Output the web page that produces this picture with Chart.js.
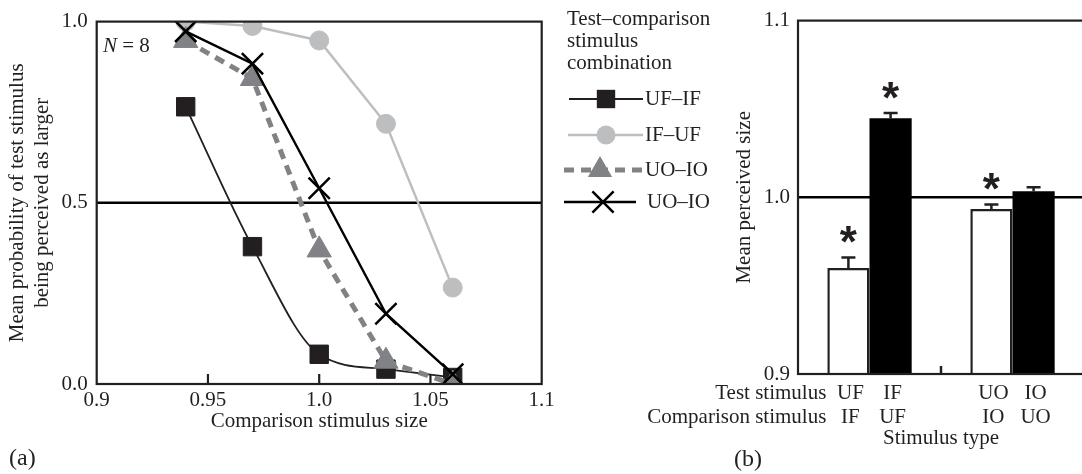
<!DOCTYPE html>
<html>
<head>
<meta charset="utf-8">
<script src="https://cdn.jsdelivr.net/npm/chart.js@4.4.1/dist/chart.umd.min.js"></script>
<style>
  html, body { margin: 0; padding: 0; background: #fff; overflow: hidden; }
  #wrap { position: relative; width: 1082px; height: 474px; overflow: hidden; }
  #left { position: absolute; left: 0; top: 0; }
  #right { position: absolute; left: 630px; top: 0; }
</style>
</head>
<body>
<div id="wrap">
  <canvas id="left" width="720" height="474"></canvas>
  <canvas id="right" width="460" height="474"></canvas>
</div>
<script>
// (a) probability of test stimulus judged larger
const sizes = [0.94, 0.97, 1.0, 1.03, 1.06];
const ufIf = [0.765, 0.379, 0.082, 0.041, 0.018];
const ifUf = [1.0, 0.988, 0.948, 0.718, 0.266];
const uoIoTri = [0.948, 0.843, 0.370, 0.063, 0.0];
const uoIoCross = [0.973, 0.884, 0.540, 0.194, 0.027];
const seriesNames = ['UF–IF', 'IF–UF', 'UO–IO', 'UO–IO'];
const xTicks = [0.9, 0.95, 1.0, 1.05, 1.1];
const xTickLabels = ['0.9', '0.95', '1.0', '1.05', '1.1'];
const yTicks = [0, 0.5, 1.0];
const yTickLabels = ['0.0', '0.5', '1.0'];
const chanceLevel = 0.5;

// (b) mean perceived size
const groups = ['UF/IF', 'UO/IO'];
const whiteMeans = [0.960, 0.9934];
const whiteErr = [0.006, 0.0025];
const blackMeans = [1.0447, 1.0034];
const blackErr = [0.003, 0.0023];
const whiteSig = [true, true];
const blackSig = [true, false];
const testLabels = [['UF', 'UO'], ['IF', 'IO']];   // per dataset, per group
const compLabels = [['IF', 'IO'], ['UF', 'UO']];
const bTicks = [0.9, 1.0, 1.1];
const bTickLabels = ['0.9', '1.0', '1.1'];
const pseLevel = 1.0;

const INK = '#231f20';
const SERIF = "'Liberation Serif', 'Times New Roman', serif";
Chart.defaults.font.family = SERIF;
Chart.defaults.font.size = 21;
Chart.defaults.color = INK;

function marker(ctx, style, x, y, r, color, lw) {
  ctx.save();
  ctx.fillStyle = color;
  ctx.strokeStyle = color;
  ctx.lineWidth = lw;
  ctx.setLineDash([]);
  ctx.beginPath();
  if (style === 'rect') {
    const s = r * Math.SQRT1_2;
    ctx.rect(x - s, y - s, 2 * s, 2 * s);
    ctx.fill();
  } else if (style === 'circle') {
    ctx.arc(x, y, r, 0, Math.PI * 2);
    ctx.fill();
  } else if (style === 'triangle') {
    ctx.moveTo(x, y - r);
    ctx.lineTo(x + r * Math.sin(2 * Math.PI / 3), y - r * Math.cos(2 * Math.PI / 3));
    ctx.lineTo(x + r * Math.sin(4 * Math.PI / 3), y - r * Math.cos(4 * Math.PI / 3));
    ctx.closePath();
    ctx.fill();
  } else {
    const d = r * Math.SQRT1_2;
    ctx.moveTo(x - d, y - d); ctx.lineTo(x + d, y + d);
    ctx.moveTo(x + d, y - d); ctx.lineTo(x - d, y + d);
    ctx.stroke();
  }
  ctx.restore();
}

// horizontal reference line under the data
const refLine = {
  id: 'refLine',
  beforeDatasetsDraw(chart, args, opts) {
    const {ctx, chartArea} = chart;
    const y = chart.scales.y.getPixelForValue(opts.value);
    ctx.save();
    ctx.strokeStyle = '#000';
    ctx.lineWidth = 2.4;
    ctx.beginPath();
    ctx.moveTo(chartArea.left, y);
    ctx.lineTo(chartArea.right, y);
    ctx.stroke();
    ctx.restore();
  }
};

// box round the plot area
const frame = {
  id: 'frame',
  afterDatasetsDraw(chart) {
    const {ctx, chartArea} = chart;
    ctx.save();
    ctx.strokeStyle = INK;
    ctx.lineWidth = 2.2;
    ctx.strokeRect(chartArea.left, chartArea.top, chartArea.right - chartArea.left, chartArea.bottom - chartArea.top);
    ctx.restore();
  }
};

const leftExtras = {
  id: 'leftExtras',
  afterDraw(chart) {
    const {ctx, chartArea} = chart;
    const xs = chart.scales.x;
    ctx.save();
    // inner tick marks
    ctx.strokeStyle = INK;
    ctx.lineWidth = 2.2;
    xTicks.slice(1, -1).forEach(v => {
      const x = xs.getPixelForValue(v);
      ctx.beginPath();
      ctx.moveTo(x, chartArea.bottom);
      ctx.lineTo(x, chartArea.bottom - 10);
      ctx.stroke();
    });
    ctx.fillStyle = INK;
    ctx.textBaseline = 'alphabetic';
    ctx.textAlign = 'left';
    ctx.font = 'italic 21px ' + SERIF;
    ctx.fillText('N', 103, 51.5);
    const nw = ctx.measureText('N').width;
    ctx.font = '21px ' + SERIF;
    ctx.fillText(' = 8', 103 + nw, 51.5);
    ctx.font = '24px ' + SERIF;
    ctx.fillText('(a)', 9, 465);

    // legend
    ctx.font = '21px ' + SERIF;
    ['Test–comparison', 'stimulus', 'combination'].forEach((t, i) => {
      ctx.fillText(t, 567, 25 + i * 22.2);
    });
    const rows = [
      {y: 99, x0: 569, x1: 643, mx: 606, tx: 645},
      {y: 135, x0: 568, x1: 643, mx: 606, tx: 645},
      {y: 170, x0: 564, x1: 642, mx: 600, tx: 645},
      {y: 202, x0: 564, x1: 636, mx: 603, tx: 647}
    ];
    chart.data.datasets.forEach((ds, i) => {
      const r = rows[i];
      ctx.save();
      ctx.strokeStyle = ds.borderColor;
      ctx.lineWidth = ds.borderWidth;
      ctx.setLineDash(ds.borderDash || []);
      ctx.beginPath();
      ctx.moveTo(r.x0, r.y);
      ctx.lineTo(r.x1, r.y);
      ctx.stroke();
      ctx.restore();
      marker(ctx, ds.pointStyle, r.mx, r.y, ds.pointRadius, ds.pointBorderColor, ds.pointBorderWidth || 1);
      ctx.fillStyle = INK;
      ctx.textBaseline = 'middle';
      ctx.fillText(ds.label, r.tx, r.y);
    });
    ctx.restore();
  }
};

const pts = ys => sizes.map((x, i) => ({x: x, y: ys[i]}));

new Chart(document.getElementById('left'), {
  type: 'line',
  data: {
    datasets: [
      {label: seriesNames[0], data: pts(ufIf), borderColor: INK, borderWidth: 1.8,
       cubicInterpolationMode: 'monotone', pointStyle: 'rect', pointRadius: 13,
       pointBackgroundColor: INK, pointBorderColor: INK, pointBorderWidth: 1, order: 2},
      {label: seriesNames[1], data: pts(ifUf), borderColor: '#bcbec0', borderWidth: 2.5,
       pointStyle: 'circle', pointRadius: 9.5,
       pointBackgroundColor: '#bcbec0', pointBorderColor: '#bcbec0', pointBorderWidth: 1, order: 3},
      {label: seriesNames[2], data: pts(uoIoTri), borderColor: '#808285', borderWidth: 5,
       borderDash: [10, 7], pointStyle: 'triangle', pointRadius: 14,
       pointBackgroundColor: '#808285', pointBorderColor: '#808285', pointBorderWidth: 1, order: 1},
      {label: seriesNames[3], data: pts(uoIoCross), borderColor: '#000', borderWidth: 2.4,
       pointStyle: 'crossRot', pointRadius: 15,
       pointBackgroundColor: '#000', pointBorderColor: '#000', pointBorderWidth: 2.5, order: 0}
    ]
  },
  options: {
    responsive: false,
    animation: false,
    devicePixelRatio: 1,
    layout: {padding: {top: 20, right: 178.3, left: 0, bottom: 0}},
    plugins: {
      legend: {display: false},
      tooltip: {enabled: false},
      refLine: {value: chanceLevel}
    },
    scales: {
      x: {
        type: 'linear', min: 0.9, max: 1.1,
        afterBuildTicks: s => { s.ticks = xTicks.map(v => ({value: v})); },
        afterFit: s => { s.height = 90; },
        ticks: {padding: 4, callback: (v, i) => xTickLabels[i]},
        grid: {display: false, drawTicks: false},
        border: {display: false},
        title: {display: true, text: 'Comparison stimulus size', padding: {top: 0, bottom: 40}}
      },
      y: {
        min: 0, max: 1,
        afterBuildTicks: s => { s.ticks = yTicks.map(v => ({value: v})); },
        afterFit: s => { s.width = 96.7; },
        ticks: {padding: 9, callback: (v, i) => yTickLabels[i]},
        grid: {display: false, drawTicks: false},
        border: {display: false},
        title: {display: true, text: ['Mean probability of test stimulus', 'being perceived as larger'],
                font: {lineHeight: 1.16}, padding: {top: 5.8, bottom: 0}}
      }
    }
  },
  plugins: [refLine, frame, leftExtras]
});

// error bars, asterisks and row labels for (b)
const rightExtras = {
  id: 'rightExtras',
  afterDatasetsDraw(chart) {
    const {ctx, chartArea} = chart;
    const ys = chart.scales.y;
    const xs = chart.scales.x;
    ctx.save();
    ctx.strokeStyle = INK;
    ctx.lineWidth = 2.5;
    chart.data.datasets.forEach((ds, di) => {
      chart.getDatasetMeta(di).data.forEach((bar, i) => {
        const top = ys.getPixelForValue(ds.data[i] + ds.errs[i]);
        ctx.beginPath();
        ctx.moveTo(bar.x, bar.y);
        ctx.lineTo(bar.x, top);
        ctx.moveTo(bar.x - 7, top);
        ctx.lineTo(bar.x + 7, top);
        ctx.stroke();
        if (ds.sig[i]) {
          ctx.fillStyle = INK;
          ctx.font = "bold 44px 'Liberation Sans', Arial, sans-serif";
          ctx.textAlign = 'center';
          ctx.textBaseline = 'alphabetic';
          ctx.fillText('*', bar.x, top - 18.5 + 18);
        }
      });
    });
    // inner tick between the two groups
    const mid = (xs.getPixelForValue(0) + xs.getPixelForValue(1)) / 2;
    ctx.beginPath();
    ctx.moveTo(mid, chartArea.bottom);
    ctx.lineTo(mid, chartArea.bottom - 8);
    ctx.stroke();
    ctx.restore();
  },
  afterDraw(chart) {
    const {ctx} = chart;
    ctx.save();
    ctx.fillStyle = INK;
    ctx.font = '21px ' + SERIF;
    ctx.textBaseline = 'alphabetic';
    const first = chart.getDatasetMeta(0).data[0];
    const edge = first.x - first.width / 2 - 1;
    ctx.textAlign = 'right';
    ctx.fillText('Test stimulus', edge, 399.3);
    ctx.fillText('Comparison stimulus', edge, 423.3);
    ctx.textAlign = 'center';
    chart.data.datasets.forEach((ds, di) => {
      chart.getDatasetMeta(di).data.forEach((bar, i) => {
        ctx.fillText(testLabels[di][i], bar.x + 2, 399.3);
        ctx.fillText(compLabels[di][i], bar.x + 2, 423.3);
      });
    });
    ctx.font = '24px ' + SERIF;
    ctx.fillText('(b)', 118, 466);
    ctx.restore();
  }
};

new Chart(document.getElementById('right'), {
  type: 'bar',
  data: {
    labels: groups,
    datasets: [
      {label: 'Test larger', data: whiteMeans, errs: whiteErr, sig: whiteSig,
       backgroundColor: '#fff', borderColor: INK, borderWidth: 2.5,
       categoryPercentage: 0.59, barPercentage: 1},
      {label: 'Comparison larger', data: blackMeans, errs: blackErr, sig: blackSig,
       backgroundColor: '#000', borderColor: '#000', borderWidth: 0,
       categoryPercentage: 0.59, barPercentage: 1}
    ]
  },
  options: {
    responsive: false,
    animation: false,
    devicePixelRatio: 1,
    layout: {padding: {top: 20, right: 6, left: 100, bottom: 0}},
    plugins: {
      legend: {display: false},
      tooltip: {enabled: false},
      refLine: {value: pseLevel}
    },
    scales: {
      x: {
        afterFit: s => { s.height = 100; },
        ticks: {display: false},
        grid: {display: false, drawTicks: false},
        border: {display: false},
        title: {display: true, text: 'Stimulus type', padding: {top: 0, bottom: 22.8}}
      },
      y: {
        min: 0.9, max: 1.1,
        afterBuildTicks: s => { s.ticks = bTicks.map(v => ({value: v})); },
        afterFit: s => { s.width = 68; },
        ticks: {padding: 8, callback: (v, i) => bTickLabels[i]},
        grid: {display: false, drawTicks: false},
        border: {display: false},
        title: {display: true, text: 'Mean perceived size', font: {lineHeight: 1.16}, padding: {top: 2.4, bottom: 0}}
      }
    }
  },
  plugins: [refLine, frame, rightExtras]
});
</script>
</body>
</html>
